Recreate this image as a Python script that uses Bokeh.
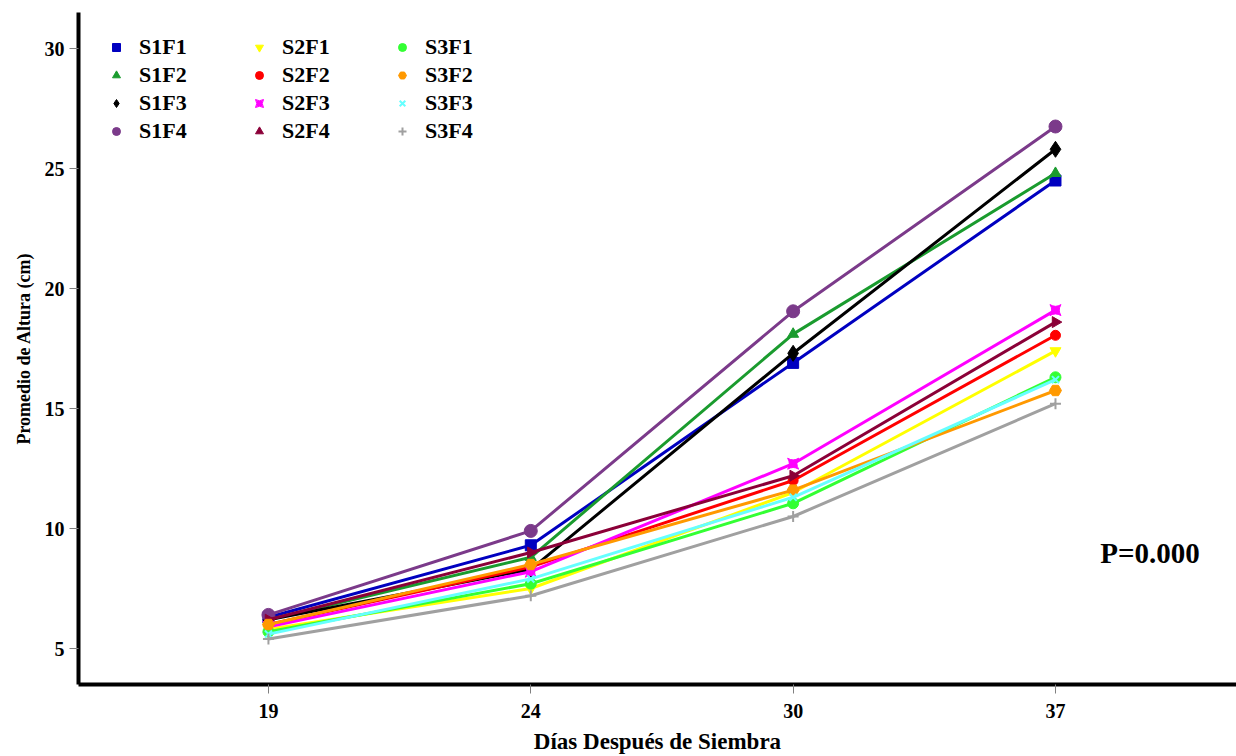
import math
from bokeh.plotting import figure
from bokeh.models import Legend, LegendItem, FixedTicker, Label
from bokeh.embed import file_html
from bokeh.resources import INLINE

days = ["19", "24", "30", "37"]
xpos = [0, 1, 2, 3]

names = ["S1F1", "S1F2", "S1F3", "S1F4",
         "S2F1", "S2F2", "S2F3", "S2F4",
         "S3F1", "S3F2", "S3F3", "S3F4"]

S1F1 = [6.3, 9.3, 16.9, 24.5]
S1F2 = [6.2, 8.8, 18.1, 24.8]
S1F3 = [6.2, 8.3, 17.3, 25.8]
S1F4 = [6.4, 9.9, 19.05, 26.75]
S2F1 = [5.8, 7.5, 11.5, 17.4]
S2F2 = [6.0, 8.4, 12.0, 18.05]
S2F3 = [5.9, 8.2, 12.7, 19.1]
S2F4 = [6.2, 9.0, 12.2, 18.6]
S3F1 = [5.7, 7.7, 11.05, 16.3]
S3F2 = [6.0, 8.5, 11.6, 15.75]
S3F3 = [5.6, 7.9, 11.3, 16.2]
S3F4 = [5.4, 7.2, 10.5, 15.2]

values = [S1F1, S1F2, S1F3, S1F4, S2F1, S2F2, S2F3, S2F4, S3F1, S3F2, S3F3, S3F4]

colors = ["#0000c0", "#1a9b2e", "#000000", "#7b3a8a",
          "#ffff00", "#ff0000", "#ff00ff", "#8b0038",
          "#33ff33", "#ff9900", "#66ffff", "#a0a0a0"]
markers = ["square", "triangle", "diamond", "circle",
           "inverted_triangle", "circle", "square_pin", "triangle",
           "circle", "hex", "x", "cross"]
sizes = [11, 11, 16, 13, 11, 10, 11, 11, 11, 12, 10, 11]
angles = [0, 0, 0, 0, 0, 0, 0, -math.pi / 2, 0, 0, 0, 0]

FONT = "Liberation Serif"

p = figure(width=1236, height=756, output_backend="svg", toolbar_location=None,
           x_range=(-0.724, 3.69), y_range=(3.5, 31.5),
           min_border_left=78, min_border_right=0, min_border_top=12, min_border_bottom=71)
p.outline_line_color = None
p.grid.visible = False
p.background_fill_color = "white"

items = []
for name, vals, c, m, s, a in zip(names, values, colors, markers, sizes, angles):
    p.line(xpos, vals, line_color=c, line_width=3)
    r = p.scatter(xpos, vals, marker=m, size=s, angle=a, fill_color=c, line_color=c,
                  line_width=2 if m in ("x", "cross") else 1)
    items.append(LegendItem(label=name, renderers=[r]))

legend = Legend(items=items, location="top_left", orientation="vertical",
                nrows=4, ncols=3, margin=22, padding=0,
                glyph_width=32, glyph_height=20, label_height=20, label_width=102,
                label_standoff=7, spacing=2,
                label_text_font=FONT, label_text_font_style="bold",
                label_text_font_size="22px", label_text_color="black",
                background_fill_alpha=0, border_line_color=None)
p.add_layout(legend, "center")

p.xaxis.ticker = FixedTicker(ticks=xpos)
p.xaxis.major_label_overrides = {i: d for i, d in zip(xpos, days)}
p.yaxis.ticker = FixedTicker(ticks=[5, 10, 15, 20, 25, 30])

for ax in (p.xaxis, p.yaxis):
    ax.axis_line_width = 4
    ax.axis_line_color = "black"
    ax.major_tick_in = 0
    ax.major_tick_out = 9
    ax.major_tick_line_color = "#808080"
    ax.major_tick_line_width = 1
    ax.minor_tick_line_color = None
    ax.major_label_text_font = FONT
    ax.major_label_text_font_style = "bold"
    ax.major_label_text_font_size = "20px"
    ax.major_label_text_color = "black"
    ax.axis_label_text_font = FONT
    ax.axis_label_text_font_style = "bold"
    ax.axis_label_text_color = "black"

p.xaxis.axis_label = "Días Después de Siembra"
p.yaxis.axis_label = "Promedio de Altura (cm)"
p.xaxis.axis_label_text_font_size = "23px"
p.yaxis.axis_label_text_font_size = "18px"
p.xaxis.major_label_standoff = 10
p.yaxis.major_label_standoff = 5
p.xaxis.axis_label_standoff = 8
p.yaxis.axis_label_standoff = 8

p.add_layout(Label(x=3.36, y=9.0, text="P=0.000", text_font=FONT, text_font_style="bold",
                   text_font_size="29px", text_align="center", text_baseline="middle",
                   text_color="black"))

open("out.html", "w").write(file_html(p, INLINE))
